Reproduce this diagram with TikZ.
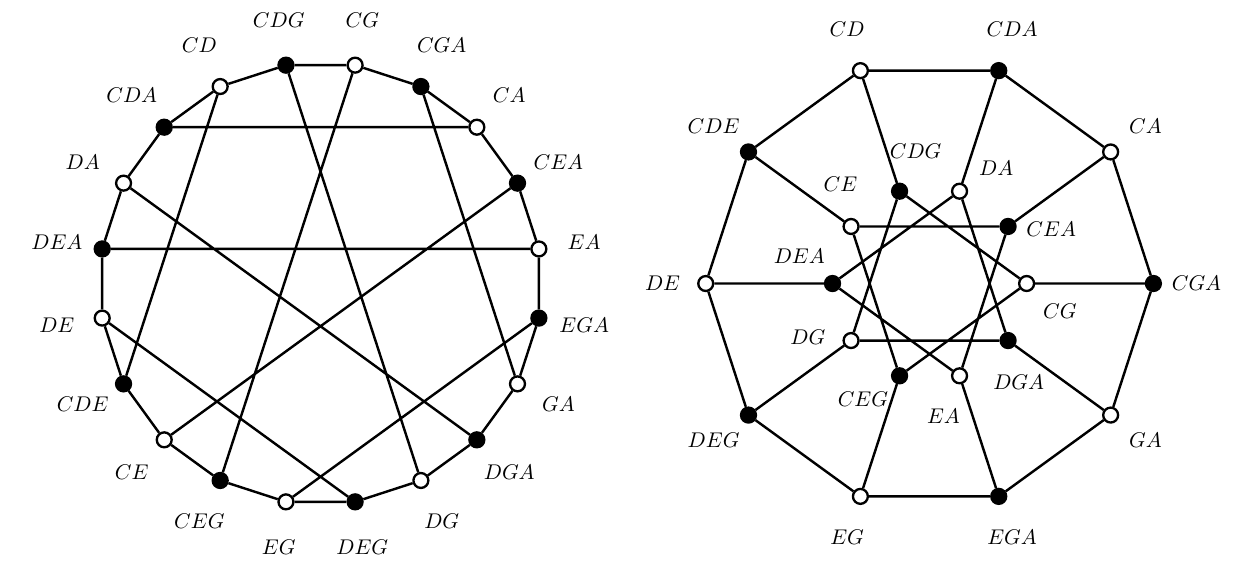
\documentclass[tikz,border=0pt]{standalone}
\usepackage{tikz}
\usetikzlibrary{positioning}
\tikzset{
  vtx/.style={circle,draw,line width=1.2pt,minimum size=0.27cm,inner sep=0pt},
  lbl/.style={font=\fontsize{10.95}{13}\selectfont}
}
\begin{document}
\begin{tikzpicture}[line width=1.25pt]
\useasboundingbox (-5.80,-5.06) rectangle (16.80,5.13);
\foreach \nm/\a/\c in {CDG/99/black, CG/81/white, CGA/63/black, CA/45/white, CEA/27/black, EA/9/white, EGA/-9/black, GA/-27/white, DGA/-45/black, DG/-63/white, DEG/-81/black, EG/-99/white, CEG/-117/black, CE/-135/white, CDE/-153/black, DE/-171/white, DEA/171/black, DA/153/white, CDA/135/black, CD/117/white}{
  \node[vtx,fill=\c] (l\nm) at (\a:4) {};
  \node[lbl] (tl\nm) at (\a:4.83) {$\nm$};
}
\draw (lCDG) -- (lCG) -- (lCGA) -- (lCA) -- (lCEA) -- (lEA) -- (lEGA) -- (lGA) -- (lDGA) -- (lDG) -- (lDEG) -- (lEG) -- (lCEG) -- (lCE) -- (lCDE) -- (lDE) -- (lDEA) -- (lDA) -- (lCDA) -- (lCD) -- (lCDG);
\draw (lCDA) -- (lCA) (lDEA) -- (lEA) (lCD) -- (lCDE) (lCDG) -- (lDG) (lCG) -- (lCEG)
      (lCGA) -- (lGA) (lCEA) -- (lCE) (lDA) -- (lDGA) (lDE) -- (lDEG) (lEGA) -- (lEG);
\begin{scope}[xshift=11.02cm]
\foreach \nm/\a/\c in {CGA/0/black, CA/36/white, CDA/72/black, CD/108/white, CDE/144/black, DE/180/white, DEG/216/black, EG/252/white, EGA/288/black, GA/324/white}{
  \node[vtx,fill=\c] (r\nm) at (\a:4.05) {};
  \node[lbl] (tr\nm) at (\a:4.83) {$\nm$};
}
\foreach \nm/\a/\c in {CG/0/white, CEA/36/black, DA/72/white, CDG/108/black, CE/144/white, DEA/180/black, DG/216/white, CEG/252/black, EA/288/white, DGA/324/black}{
  \node[vtx,fill=\c] (r\nm) at (\a:1.756) {};
  \node[lbl] (tr\nm) at ({\a-12}:2.41) {$\nm$};
}
\draw (rCGA) -- (rCA) -- (rCDA) -- (rCD) -- (rCDE) -- (rDE) -- (rDEG) -- (rEG) -- (rEGA) -- (rGA) -- (rCGA);
\draw (rCGA) -- (rCG) (rCA) -- (rCEA) (rCDA) -- (rDA) (rCD) -- (rCDG) (rCDE) -- (rCE)
      (rDE) -- (rDEA) (rDEG) -- (rDG) (rEG) -- (rCEG) (rEGA) -- (rEA) (rGA) -- (rDGA);
\draw (rCG) -- (rCDG) (rCEA) -- (rCE) (rDA) -- (rDEA) (rCDG) -- (rDG) (rCE) -- (rCEG)
      (rDEA) -- (rEA) (rDG) -- (rDGA) (rCEG) -- (rCG) (rEA) -- (rCEA) (rDGA) -- (rDA);
\end{scope}
\end{tikzpicture}
\end{document}
